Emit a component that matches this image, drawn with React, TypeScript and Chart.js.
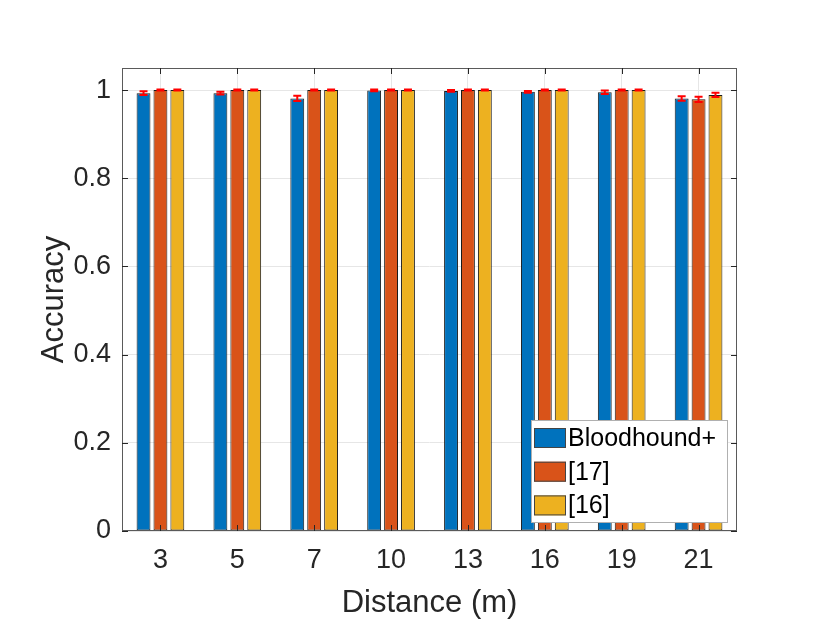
import React, { useEffect, useRef } from "react";
import { Chart, registerables } from "chart.js";

Chart.register(...registerables);

const categories = ["3", "5", "7", "10", "13", "16", "19", "21"];
const seriesLabels = ["Bloodhound+", "[17]", "[16]"];
const seriesColors = ["#0072BD", "#D95319", "#EDB120"];

const bloodhound = [0.993, 0.993, 0.981, 0.999, 0.998, 0.996, 0.995, 0.981];
const bloodhoundErr = [0.004, 0.003, 0.006, 0.002, 0.002, 0.002, 0.004, 0.005];
const ref17 = [1, 1, 1, 1, 1, 1, 1, 0.979];
const ref17Err = [0.001, 0.001, 0.001, 0.001, 0.001, 0.001, 0.001, 0.006];
const ref16 = [1, 1, 1, 1, 1, 1, 1, 0.989];
const ref16Err = [0.001, 0.001, 0.001, 0.001, 0.001, 0.001, 0.001, 0.005];

const yTicks = [0, 0.2, 0.4, 0.6, 0.8, 1];

const FONT = "'Liberation Sans', Arial, sans-serif";
const TEXT = "#262626";

// red error bars on top of each bar
const errorBars = {
  id: "errorBars",
  afterDatasetsDraw(chart: any) {
    const { ctx } = chart;
    const yScale = chart.scales.y;
    ctx.save();
    ctx.strokeStyle = "#FF0000";
    ctx.lineWidth = 2;
    chart.data.datasets.forEach((ds: any, i: number) => {
      const meta = chart.getDatasetMeta(i);
      meta.data.forEach((bar: any, j: number) => {
        const v = ds.data[j];
        const e = ds.errors[j];
        const x = bar.x;
        const yHi = yScale.getPixelForValue(v + e);
        const yLo = yScale.getPixelForValue(v - e);
        ctx.beginPath();
        ctx.moveTo(x, yHi);
        ctx.lineTo(x, yLo);
        ctx.moveTo(x - 4, yHi);
        ctx.lineTo(x + 4, yHi);
        ctx.moveTo(x - 4, yLo);
        ctx.lineTo(x + 4, yLo);
        ctx.stroke();
      });
    });
    ctx.restore();
  },
};

// MATLAB-style box with inward ticks, then the legend inside the axes
const boxAndLegend = {
  id: "boxAndLegend",
  afterDraw(chart: any) {
    const { ctx, chartArea } = chart;
    const { left, right, top, bottom } = chartArea;
    const xScale = chart.scales.x;
    const yScale = chart.scales.y;
    ctx.save();
    ctx.strokeStyle = "#5a5a5a";
    ctx.lineWidth = 1;
    ctx.strokeRect(left + 0.5, top + 0.5, right - left - 1, bottom - top - 1);
    ctx.strokeStyle = "#262626";
    ctx.beginPath();
    categories.forEach((_, i) => {
      const x = Math.round(xScale.getPixelForTick(i)) + 0.5;
      ctx.moveTo(x, bottom);
      ctx.lineTo(x, bottom - 6);
      ctx.moveTo(x, top);
      ctx.lineTo(x, top + 6);
    });
    yTicks.forEach((v) => {
      const y = Math.round(yScale.getPixelForValue(v)) + 0.5;
      ctx.moveTo(left, y);
      ctx.lineTo(left + 6, y);
      ctx.moveTo(right, y);
      ctx.lineTo(right - 6, y);
    });
    ctx.stroke();

    // legend
    const boxW = 196;
    const boxH = 102;
    const bx = right - 10 - boxW;
    const by = bottom - 9 - boxH;
    ctx.fillStyle = "#ffffff";
    ctx.fillRect(bx, by, boxW, boxH);
    ctx.strokeStyle = "#b0b0b0";
    ctx.strokeRect(bx + 0.5, by + 0.5, boxW, boxH);
    ctx.font = `25px ${FONT}`;
    ctx.textBaseline = "middle";
    ctx.textAlign = "left";
    seriesLabels.forEach((label, i) => {
      const cy = by + 18 + i * 33.7;
      ctx.fillStyle = seriesColors[i];
      ctx.fillRect(bx + 3, cy - 10, 32, 20);
      ctx.strokeStyle = "#444";
      ctx.strokeRect(bx + 3.5, cy - 9.5, 31, 19);
      ctx.fillStyle = "#000";
      ctx.fillText(label, bx + 37, cy + 1);
    });
    ctx.restore();
  },
};

const App: React.FC = () => {
  const chartRef = useRef<HTMLCanvasElement | null>(null);
  const chartInstance = useRef<Chart | null>(null);

  useEffect(() => {
    if (!chartRef.current) return;
    if (chartInstance.current) chartInstance.current.destroy();
    const ctx = chartRef.current.getContext("2d");
    if (!ctx) return;

    const values = [bloodhound, ref17, ref16];
    const errors = [bloodhoundErr, ref17Err, ref16Err];

    chartInstance.current = new Chart(ctx, {
      type: "bar",
      data: {
        labels: categories,
        datasets: seriesLabels.map((label, i) => ({
          label,
          data: values[i],
          errors: errors[i],
          backgroundColor: seriesColors[i],
          borderColor: "#1a1a1a",
          borderWidth: 1,
          borderSkipped: false,
          categoryPercentage: 0.66,
          barPercentage: 0.82,
        })) as any,
      },
      options: {
        animation: false,
        responsive: true,
        maintainAspectRatio: false,
        layout: { padding: { top: 68, right: 93, left: 0, bottom: 0 } },
        plugins: {
          legend: { display: false },
          tooltip: { enabled: false },
        },
        scales: {
          x: {
            grid: { color: "#e6e6e6", offset: false, drawTicks: false },
            border: { display: false },
            ticks: {
              color: TEXT,
              font: { family: FONT, size: 27 },
              padding: 13,
              maxRotation: 0,
            },
            title: {
              display: true,
              text: "Distance (m)",
              color: TEXT,
              font: { family: FONT, size: 31 },
              padding: { top: 0, bottom: 20 },
            },
            afterFit: (s: any) => {
              s.height = 111;
            },
          },
          y: {
            min: 0,
            max: 1.05,
            grid: { color: "#e6e6e6", drawTicks: false },
            border: { display: false },
            afterBuildTicks: (s: any) => {
              s.ticks = yTicks.map((v) => ({ value: v }));
            },
            ticks: {
              color: TEXT,
              font: { family: FONT, size: 27 },
              padding: 11,
              callback: (v: any) => String(Math.round(Number(v) * 10) / 10),
            },
            title: {
              display: true,
              text: "Accuracy",
              color: TEXT,
              font: { family: FONT, size: 31 },
              padding: { top: 36, bottom: 0 },
            },
            afterFit: (s: any) => {
              s.width = 122;
            },
          },
        },
      },
      plugins: [errorBars, boxAndLegend],
    });

    return () => {
      if (chartInstance.current) {
        chartInstance.current.destroy();
        chartInstance.current = null;
      }
    };
  }, []);

  return (
    <div style={{ position: "absolute", left: 0, top: 0, width: 830, height: 642 }}>
      <canvas ref={chartRef} />
    </div>
  );
};

export default App;
